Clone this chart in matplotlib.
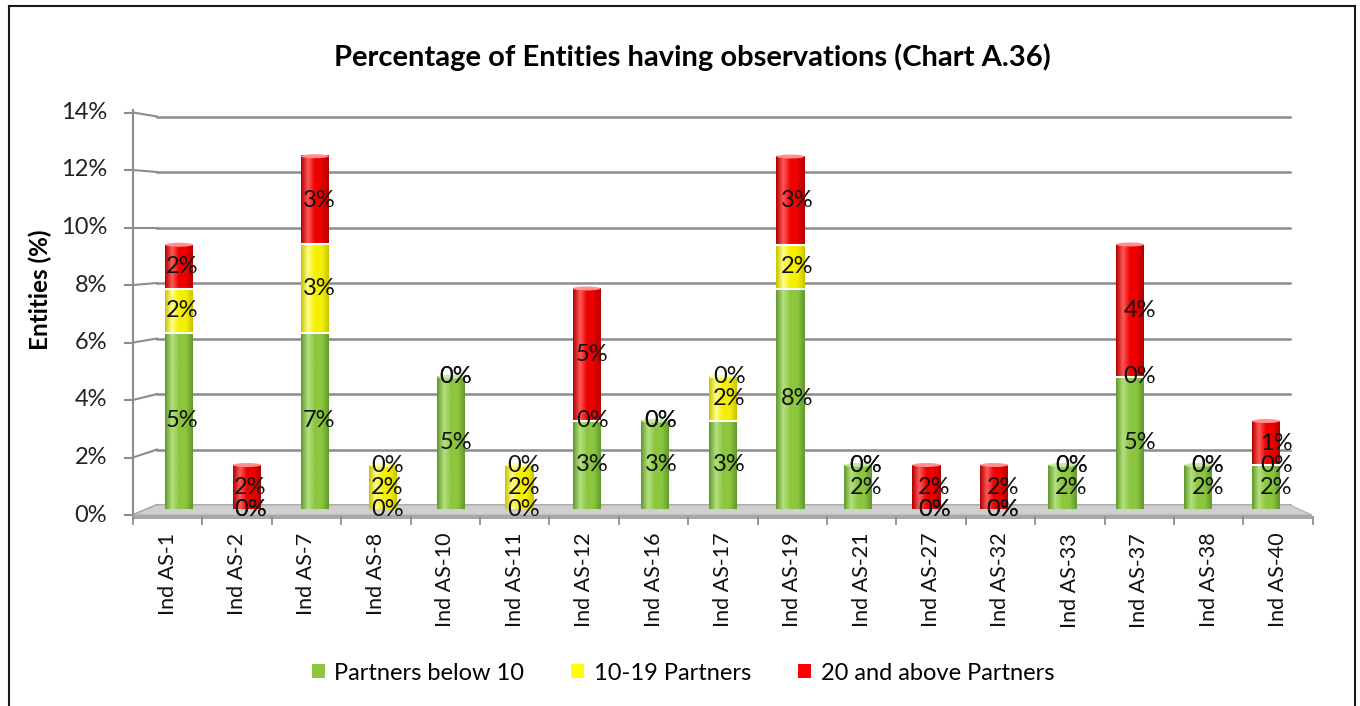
import matplotlib
matplotlib.use('Agg')
import matplotlib.pyplot as plt
import numpy as np
from matplotlib.colors import LinearSegmentedColormap
from matplotlib.patches import Ellipse, Polygon, Patch
from matplotlib.lines import Line2D

plt.rcParams['font.family'] = ['Lato', 'DejaVu Sans']

# ---- data (% of entities) ----
categories = ['Ind AS-1', 'Ind AS-2', 'Ind AS-7', 'Ind AS-8', 'Ind AS-10', 'Ind AS-11',
              'Ind AS-12', 'Ind AS-16', 'Ind AS-17', 'Ind AS-19', 'Ind AS-21', 'Ind AS-27',
              'Ind AS-32', 'Ind AS-33', 'Ind AS-37', 'Ind AS-38', 'Ind AS-40']
below_10 = [6.25, 0, 6.25, 0, 4.69, 0, 3.13, 3.13, 3.13, 7.81, 1.56, 0, 0, 1.56, 4.69, 1.56, 1.56]
p_10_19 = [1.56, 0, 3.13, 1.56, 0, 1.56, 0, 0, 1.56, 1.56, 0, 0, 0, 0, 0, 0, 0]
p_20_up = [1.56, 1.56, 3.13, 0, 0, 0, 4.69, 0, 0, 3.13, 0, 1.56, 1.56, 0, 4.69, 0, 1.56]

# data labels as printed on the chart
lab_below_10 = ['5%', '0%', '7%', '0%', '5%', '0%', '3%', '3%', '3%', '8%', '2%', '0%', '0%', '2%', '5%', '2%', '2%']
lab_10_19 = ['2%', '0%', '3%', '2%', '0%', '2%', '0%', '0%', '2%', '2%', '0%', '0%', '0%', '0%', '0%', '0%', '0%']
lab_20_up = ['2%', '2%', '3%', '0%', '0%', '0%', '5%', '0%', '0%', '3%', '0%', '2%', '2%', '0%', '4%', '0%', '1%']

series_names = ['Partners below 10', '10-19 Partners', '20 and above Partners']
y_ticks = [0, 2, 4, 6, 8, 10, 12, 14]

# colours: (edge, highlight, base)
styles = [('#5f9a2c', '#b5e07f', '#8cc63f'),
          ('#c9c400', '#ffff8a', '#f5f000'),
          ('#b00000', '#ff5a5a', '#ee0000')]
legend_colors = ['#8cc63f', '#ffff00', '#ff0000']
cap_colors = ['#c9eaa0', '#ffffb0', '#ff9090']

# ---- pseudo 3D geometry helpers (pixel -> data) ----
Y0, YS = 509.0, 28.2      # bar plane: 0% row and px per %
X0, XS = 179.0, 67.94     # bar plane: first bar centre and px per category


def dx(px):
    return (px - X0) / XS


def dy(px):
    return (Y0 - px) / YS


fig = plt.figure(figsize=(13.6, 7.06), dpi=100)
ax = fig.add_axes([130.1 / 1360, 1 - 523.1 / 706, 1182.1 / 1360, 408.9 / 706])
for s in ax.spines.values():
    s.set_visible(False)

# back wall grid + left axis with slanted connectors
for v in y_ticks:
    yb = dy(505 - 27.75 * v)
    yl = dy(515 - 28.75 * v)
    ax.plot([dx(157), dx(1290)], [yb, yb], color='#8c8c8c', lw=1.8, zorder=1, clip_on=False)
    ax.plot([dx(133), dx(157)], [yl, yb], color='#8c8c8c', lw=1.5, zorder=1, clip_on=False)
    ax.plot([dx(125), dx(133)], [yl, yl], color='#8c8c8c', lw=1.5, zorder=1, clip_on=False)
    ax.text(dx(107), yl, f'{v}%', ha='right', va='center', fontsize=17, color='#222222')
ax.plot([dx(133), dx(133)], [dy(110), dy(519)], color='#8c8c8c', lw=1.5, zorder=1, clip_on=False)

# floor
ax.add_patch(Polygon([(dx(157), dy(505)), (dx(1290), dy(505)), (dx(1312), dy(515)), (dx(133), dy(515))],
                     closed=True, facecolor='#cfcfcf', edgecolor='#b0b0b0', lw=0.8, zorder=1.5, clip_on=False))
ax.add_patch(Polygon([(dx(133), dy(515)), (dx(1312), dy(515)), (dx(1312), dy(519)), (dx(133), dy(519))],
                     closed=True, facecolor='#a8a8a8', edgecolor='none', zorder=1.5, clip_on=False))
for k in range(len(categories) + 1):
    xb = dx(133 + 69.4 * k)
    ax.plot([xb, xb], [dy(517), dy(524)], color='#8c8c8c', lw=1.3, zorder=1.5, clip_on=False)

# cylinders
grad = np.linspace(0, 1, 80).reshape(1, -1)
cmaps = [LinearSegmentedColormap.from_list(f'c{j}', [e, h, b, b, e])
         for j, (e, h, b) in enumerate(styles)]
bar_w = 28 / XS
all_vals = [below_10, p_10_19, p_20_up]
all_labs = [lab_below_10, lab_10_19, lab_20_up]

for i in range(len(categories)):
    bottom = 0.0
    top_series = None
    lx = dx(182 + 68.4 * i)
    for j in range(3):
        h = all_vals[j][i]
        if h > 0:
            ax.imshow(grad, cmap=cmaps[j], extent=[i - bar_w / 2, i + bar_w / 2, bottom, bottom + h],
                      aspect='auto', zorder=3, interpolation='bilinear')
            if bottom > 0:
                ax.plot([i - bar_w / 2, i + bar_w / 2], [bottom, bottom], color='white', lw=1.5, zorder=3.5)
            top_series = j
        ax.text(lx, bottom + h / 2, all_labs[j][i], ha='center', va='center',
                fontsize=17, color='#111111', zorder=6)
        bottom += h
    if top_series is not None:
        ax.add_patch(Ellipse((i, bottom), bar_w, 0.14, facecolor=cap_colors[top_series],
                             edgecolor='none', zorder=4))

ax.set_xlim(dx(130.1), dx(1312.2))
ax.set_ylim(dy(523.1), dy(114.2))
ax.set_yticks([])
ax.set_xticks([dx(167.7 + 69.4 * i) for i in range(len(categories))])
ax.set_xticklabels(categories, rotation=90, fontsize=15.5, color='#111111', va='top')
ax.tick_params(axis='x', length=0, pad=7)

# titles, legend, frame
fig.text(692 / 1360, 1 - 57 / 706, 'Percentage of Entities having observations (Chart A.36)',
         ha='center', va='center', fontsize=21, fontweight='bold')
fig.text(40 / 1360, 1 - 290 / 706, 'Entities (%)', rotation=90, ha='center', va='center',
         fontsize=17.5, fontweight='bold')
handles = [Patch(facecolor=c, edgecolor='none') for c in legend_colors]
fig.legend(handles, series_names, loc='center', bbox_to_anchor=(683 / 1360, 1 - 673 / 706), ncol=3,
           frameon=False, fontsize=17, handlelength=0.55, handleheight=0.55, columnspacing=2.0,
           handletextpad=0.4)

for xs, ys in [([9, 9], [0, 700]), ([9, 1355], [700, 700]), ([1355, 1355], [700, 0])]:
    fig.add_artist(Line2D([x / 1360 for x in xs], [y / 706 for y in ys], color='#1a1a1a', lw=1.5))

fig.savefig('out.png', dpi=100)
